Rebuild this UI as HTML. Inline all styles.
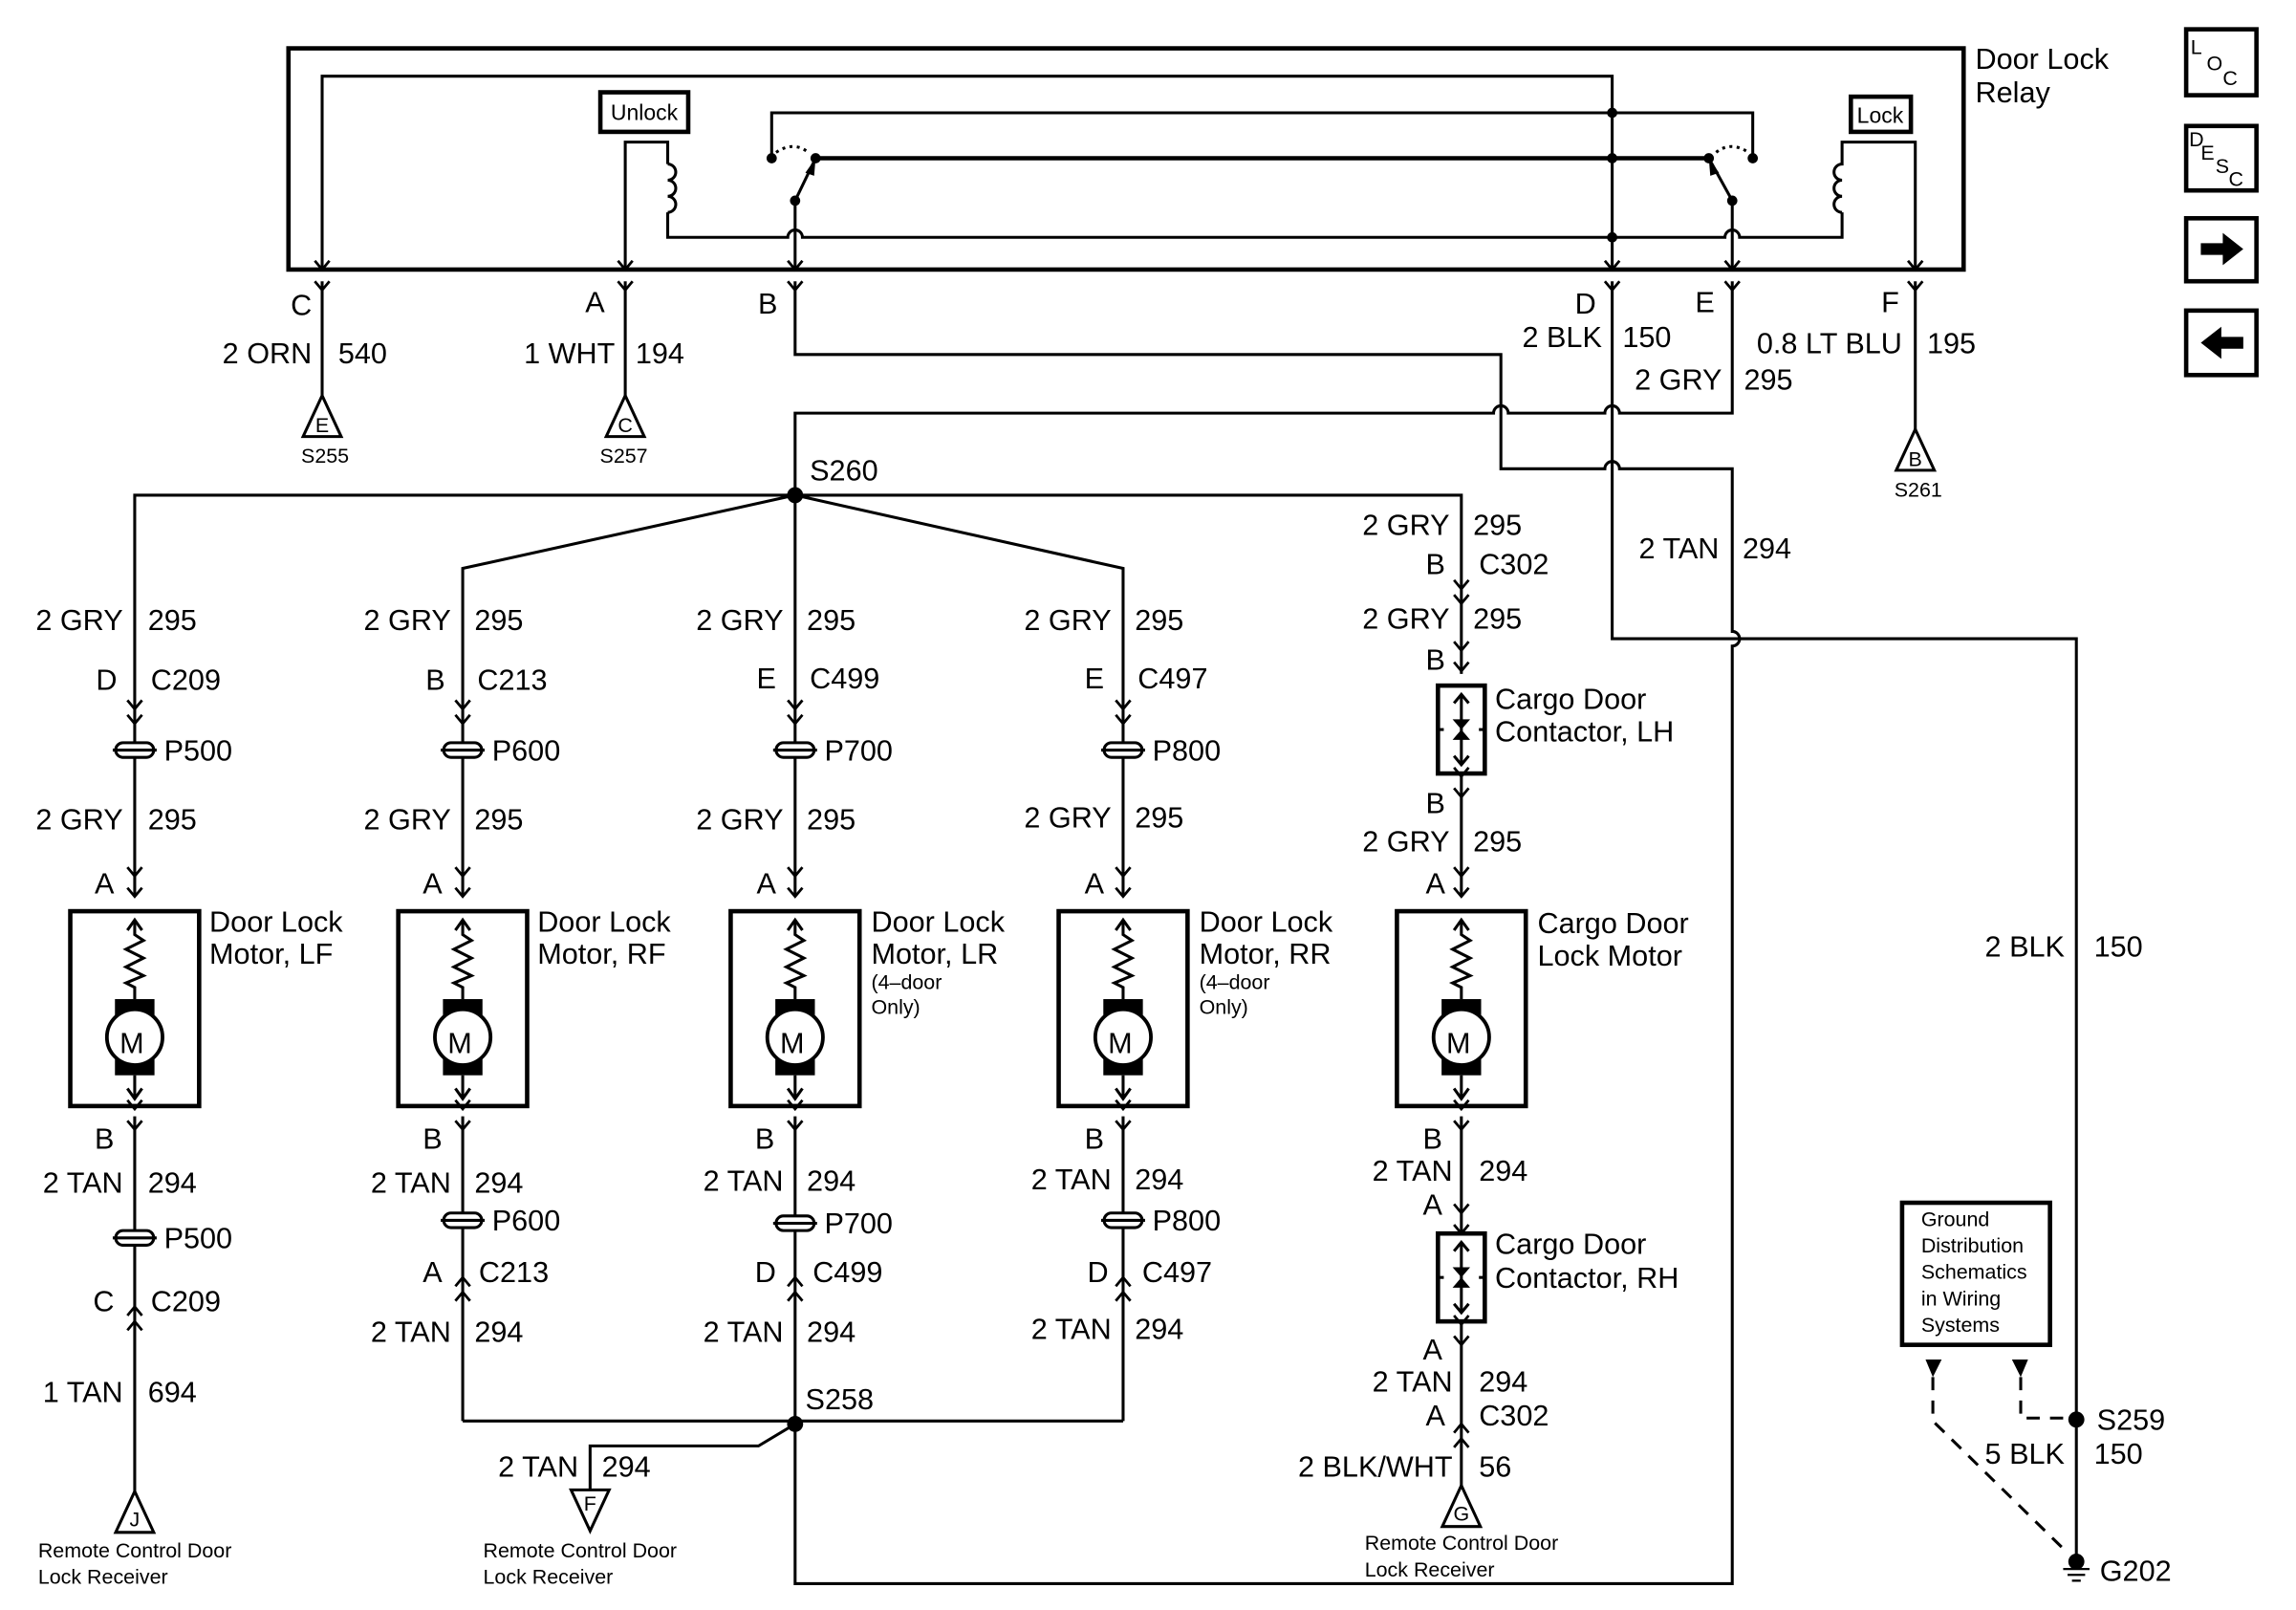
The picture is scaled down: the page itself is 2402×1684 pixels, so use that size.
<!DOCTYPE html>
<html><head><meta charset="utf-8"><style>
html,body{margin:0;padding:0;background:#fff}
svg{display:block}
text{font-family:"Liberation Sans",Arial,sans-serif;font-size:20px;fill:#000}
.s{font-size:14px}
.m{font-size:15px}
</style></head><body>
<svg width="2402" height="1684" viewBox="0 0 1568 1099" preserveAspectRatio="none" xmlns="http://www.w3.org/2000/svg">
<defs>
<g id="motor" fill="none" stroke="#000" stroke-width="2">
<rect x="-44" y="0" width="88" height="133" stroke-width="3"/>
<polyline points="-5,13 0,6 5,13"/>
<path d="M0,6 L0,16 L6,20 L-6,26 L6,32 L-6,38 L6,44 L-6,49 L0,52 L0,60"/>
<rect x="-13.5" y="60" width="27" height="52" fill="#000" stroke="none"/>
<circle cx="0" cy="86" r="19" fill="#fff" stroke-width="2.5"/>
<line x1="0" y1="112" x2="0" y2="128"/>
<polyline points="-5,121 0,128 5,121"/>
</g>
<g id="pill" stroke="#000" stroke-width="2">
<rect x="-13" y="-5" width="26" height="10" rx="5" fill="#fff"/>
<line x1="-15" y1="0" x2="15" y2="0"/>
</g>
<g id="cd" fill="none" stroke="#000" stroke-width="1.8">
<polyline points="-5,-6 0,0 5,-6"/>
<polyline points="-5,4 0,10 5,4"/>
</g>
<g id="cu" fill="none" stroke="#000" stroke-width="1.8">
<polyline points="-5,6 0,0 5,6"/>
<polyline points="-5,-4 0,-10 5,-4"/>
</g>
<g id="contactor" fill="none" stroke="#000" stroke-width="2">
<rect x="-16" y="0" width="32" height="60" stroke-width="3"/>
<line x1="0" y1="6" x2="0" y2="54"/>
<polyline points="-5,12 0,6 5,12"/>
<polyline points="-5,48 0,54 5,48"/>
<polygon points="-6,23 6,23 0,30" fill="#000" stroke="none"/>
<polygon points="-6,37 6,37 0,30" fill="#000" stroke="none"/>
<line x1="-16" y1="30" x2="-12" y2="30"/><line x1="12" y1="30" x2="16" y2="30"/>
</g>
<g id="tri" stroke="#000" stroke-width="2" fill="#fff">
<polygon points="0,0 -13,28 13,28"/>
</g>
<g id="ytop" fill="none" stroke="#000" stroke-width="1.8">
<polyline points="-5,-6 0,0 5,-6"/>
<polyline points="-5,8 0,14 5,8"/>
</g>
</defs>

<g fill="none" stroke="#000" stroke-width="2">
<rect x="197" y="33" width="1144" height="151" stroke-width="3"/>
<polyline points="220,184 220,52 1101,52 1101,184"/>
<polyline points="527,108 527,77 1197,77 1197,108"/>
<line x1="557" y1="108" x2="1167" y2="108" stroke-width="3"/>
<polyline points="427,184 427,97 456,97 456,112"/>
<path d="M456,112 a4,4 0 0 1 0,11 a4,4 0 0 1 0,11 a4,4 0 0 1 0,11"/>
<path d="M456,145 L456,162 L538,162 a5,5 0 0 1 10,0 L1178,162 a5,5 0 0 1 10,0 L1258,162 L1258,145"/>
<path d="M1258,145 a4,4 0 0 1 0,-11 a4,4 0 0 1 0,-11 a4,4 0 0 1 0,-11 L1258,97 L1308,97 L1308,184"/>
<line x1="543" y1="184" x2="543" y2="137"/>
<line x1="543" y1="137" x2="557" y2="108"/>
<line x1="1183" y1="184" x2="1183" y2="137"/>
<line x1="1183" y1="137" x2="1167" y2="108"/>
<path d="M530,104 Q542,96 552,104" stroke-dasharray="2,3"/>
<path d="M1172,104 Q1182,96 1194,104" stroke-dasharray="2,3"/>
<rect x="410" y="63" width="60" height="27" stroke-width="3"/>
<rect x="1264" y="66" width="41" height="24" stroke-width="3"/>
</g>
<g fill="#000">
<circle cx="1101" cy="77" r="3.5"/><circle cx="1101" cy="108" r="3.5"/><circle cx="1101" cy="162" r="3.5"/>
<circle cx="527" cy="108" r="3.5"/><circle cx="557" cy="108" r="3.5"/><circle cx="543" cy="137" r="3.5"/>
<circle cx="1197" cy="108" r="3.5"/><circle cx="1167" cy="108" r="3.5"/><circle cx="1183" cy="137" r="3.5"/>
<polygon points="557,108 550,118 556,120"/><polygon points="1167,108 1174,118 1168,120"/>
</g>
<text x="440" y="82" text-anchor="middle" class="m">Unlock</text>
<text x="1284" y="84" text-anchor="middle" class="m">Lock</text>
<text x="1349" y="47">Door Lock</text>
<text x="1349" y="70">Relay</text>

<use href="#ytop" x="220" y="184"/><use href="#ytop" x="427" y="184"/><use href="#ytop" x="543" y="184"/>
<use href="#ytop" x="1101" y="184"/><use href="#ytop" x="1183" y="184"/><use href="#ytop" x="1308" y="184"/>
<text x="213" y="215" text-anchor="end">C</text>
<text x="413" y="213" text-anchor="end">A</text>
<text x="531" y="214" text-anchor="end">B</text>
<text x="1090" y="214" text-anchor="end">D</text>
<text x="1171" y="213" text-anchor="end">E</text>
<text x="1297" y="213" text-anchor="end">F</text>

<g fill="none" stroke="#000" stroke-width="2">
<line x1="220" y1="192" x2="220" y2="270"/>
<line x1="427" y1="192" x2="427" y2="270"/>
<line x1="1308" y1="192" x2="1308" y2="293"/>
<path d="M543,192 L543,242 L1025,242 L1025,320 L1096,320 a5,5 0 0 1 10,0 L1183,320 L1183,431 a5,5 0 0 1 0,10 L1183,1081 L543,1081 L543,972"/>
<path d="M1183,192 L1183,282 L1106,282 a5,5 0 0 0 -10,0 L1030,282 a5,5 0 0 0 -10,0 L543,282 L543,612"/>
<polyline points="1101,192 1101,436 1418,436 1418,1062"/>
<polyline points="543,338 92,338 92,612"/>
<polyline points="543,338 316,388 316,612"/>
<polyline points="543,338 767,388 767,612"/>
<polyline points="543,338 998,338 998,460"/>
<line x1="92" y1="762" x2="92" y2="1018"/>
<line x1="316" y1="762" x2="316" y2="970"/>
<line x1="543" y1="762" x2="543" y2="972"/>
<line x1="767" y1="762" x2="767" y2="970"/>
<line x1="316" y1="970" x2="767" y2="970"/>
<polyline points="543,972 518,987 403,987 403,1017"/>
<line x1="998" y1="530" x2="998" y2="612"/>
<line x1="998" y1="762" x2="998" y2="842"/>
<line x1="998" y1="904" x2="998" y2="1014"/>
</g>
<g fill="#000"><circle cx="543" cy="338" r="5.5"/><circle cx="543" cy="972" r="5.5"/><circle cx="1418" cy="969" r="5.5"/><circle cx="1418" cy="1066" r="5.5"/></g>
<g stroke="#000" stroke-width="1.5"><line x1="1409" y1="1071" x2="1427" y2="1071"/><line x1="1412" y1="1075" x2="1424" y2="1075"/><line x1="1415" y1="1079" x2="1421" y2="1079"/></g>

<text x="213" y="248" text-anchor="end">2 ORN</text><text x="231" y="248">540</text>
<text x="420" y="248" text-anchor="end">1 WHT</text><text x="434" y="248">194</text>
<text x="1094" y="237" text-anchor="end">2 BLK</text><text x="1108" y="237">150</text>
<text x="1176" y="266" text-anchor="end">2 GRY</text><text x="1191" y="266">295</text>
<text x="1299" y="241" text-anchor="end">0.8 LT BLU</text><text x="1316" y="241">195</text>
<text x="1174" y="381" text-anchor="end">2 TAN</text><text x="1190" y="381">294</text>
<text x="1410" y="653" text-anchor="end">2 BLK</text><text x="1430" y="653">150</text>
<text x="553" y="328">S260</text>
<text x="550" y="962">S258</text>

<use href="#tri" x="220" y="270"/><text x="220" y="295" text-anchor="middle" class="s">E</text><text x="222" y="316" text-anchor="middle" class="s">S255</text>
<use href="#tri" x="427" y="270"/><text x="427" y="295" text-anchor="middle" class="s">C</text><text x="426" y="316" text-anchor="middle" class="s">S257</text>
<use href="#tri" x="1308" y="293"/><text x="1308" y="318" text-anchor="middle" class="s">B</text><text x="1310" y="339" text-anchor="middle" class="s">S261</text>
<use href="#tri" x="92" y="1018"/><text x="92" y="1042" text-anchor="middle" class="s">J</text>
<polygon points="390,1017 416,1017 403,1045" fill="#fff" stroke="#000" stroke-width="2"/><text x="403" y="1031" text-anchor="middle" class="s">F</text>
<use href="#tri" x="998" y="1014"/><text x="998" y="1038" text-anchor="middle" class="s">G</text>
<text x="26" y="1063" class="s">Remote Control Door</text><text x="26" y="1081" class="s">Lock Receiver</text>
<text x="330" y="1063" class="s">Remote Control Door</text><text x="330" y="1081" class="s">Lock Receiver</text>
<text x="932" y="1058" class="s">Remote Control Door</text><text x="932" y="1076" class="s">Lock Receiver</text>

<text x="84" y="430" text-anchor="end">2 GRY</text><text x="101" y="430">295</text>
<text x="80" y="471" text-anchor="end">D</text><text x="103" y="471">C209</text>
<use href="#cd" x="92" y="484"/>
<use href="#pill" x="92" y="512"/><text x="112" y="519">P500</text>
<text x="84" y="566" text-anchor="end">2 GRY</text><text x="101" y="566">295</text>
<text x="78" y="610" text-anchor="end">A</text>
<use href="#ytop" x="92" y="598"/>
<use href="#motor" x="92" y="622"/><text x="90" y="719" text-anchor="middle">M</text>
<text x="143" y="636">Door Lock</text><text x="143" y="658">Motor, LF</text>
<use href="#ytop" x="92" y="757"/>
<text x="78" y="784" text-anchor="end">B</text>
<text x="84" y="814" text-anchor="end">2 TAN</text><text x="101" y="814">294</text>
<use href="#pill" x="92" y="845"/><text x="112" y="852">P500</text>
<text x="78" y="895" text-anchor="end">C</text><text x="103" y="895">C209</text>
<use href="#cu" x="92" y="902"/>
<text x="84" y="957" text-anchor="end">1 TAN</text><text x="101" y="957">694</text>

<text x="308" y="430" text-anchor="end">2 GRY</text><text x="324" y="430">295</text>
<text x="304" y="471" text-anchor="end">B</text><text x="326" y="471">C213</text>
<use href="#cd" x="316" y="484"/>
<use href="#pill" x="316" y="512"/><text x="336" y="519">P600</text>
<text x="308" y="566" text-anchor="end">2 GRY</text><text x="324" y="566">295</text>
<text x="302" y="610" text-anchor="end">A</text>
<use href="#ytop" x="316" y="598"/>
<use href="#motor" x="316" y="622"/><text x="314" y="719" text-anchor="middle">M</text>
<text x="367" y="636">Door Lock</text><text x="367" y="658">Motor, RF</text>
<use href="#ytop" x="316" y="757"/>
<text x="302" y="784" text-anchor="end">B</text>
<text x="308" y="814" text-anchor="end">2 TAN</text><text x="324" y="814">294</text>
<use href="#pill" x="316" y="833"/><text x="336" y="840">P600</text>
<text x="302" y="875" text-anchor="end">A</text><text x="327" y="875">C213</text>
<use href="#cu" x="316" y="882"/>
<text x="308" y="916" text-anchor="end">2 TAN</text><text x="324" y="916">294</text>

<text x="535" y="430" text-anchor="end">2 GRY</text><text x="551" y="430">295</text>
<text x="530" y="470" text-anchor="end">E</text><text x="553" y="470">C499</text>
<use href="#cd" x="543" y="484"/>
<use href="#pill" x="543" y="512"/><text x="563" y="519">P700</text>
<text x="535" y="566" text-anchor="end">2 GRY</text><text x="551" y="566">295</text>
<text x="530" y="610" text-anchor="end">A</text>
<use href="#ytop" x="543" y="598"/>
<use href="#motor" x="543" y="622"/><text x="541" y="719" text-anchor="middle">M</text>
<text x="595" y="636">Door Lock</text><text x="595" y="658">Motor, LR</text>
<text x="595" y="675" class="s">(4–door</text><text x="595" y="692" class="s">Only)</text>
<use href="#ytop" x="543" y="757"/>
<text x="529" y="784" text-anchor="end">B</text>
<text x="535" y="813" text-anchor="end">2 TAN</text><text x="551" y="813">294</text>
<use href="#pill" x="543" y="835"/><text x="563" y="842">P700</text>
<text x="530" y="875" text-anchor="end">D</text><text x="555" y="875">C499</text>
<use href="#cu" x="543" y="882"/>
<text x="535" y="916" text-anchor="end">2 TAN</text><text x="551" y="916">294</text>
<text x="395" y="1008" text-anchor="end">2 TAN</text><text x="411" y="1008">294</text>

<text x="759" y="430" text-anchor="end">2 GRY</text><text x="775" y="430">295</text>
<text x="754" y="470" text-anchor="end">E</text><text x="777" y="470">C497</text>
<use href="#cd" x="767" y="484"/>
<use href="#pill" x="767" y="512"/><text x="787" y="519">P800</text>
<text x="759" y="565" text-anchor="end">2 GRY</text><text x="775" y="565">295</text>
<text x="754" y="610" text-anchor="end">A</text>
<use href="#ytop" x="767" y="598"/>
<use href="#motor" x="767" y="622"/><text x="765" y="719" text-anchor="middle">M</text>
<text x="819" y="636">Door Lock</text><text x="819" y="658">Motor, RR</text>
<text x="819" y="675" class="s">(4–door</text><text x="819" y="692" class="s">Only)</text>
<use href="#ytop" x="767" y="757"/>
<text x="754" y="784" text-anchor="end">B</text>
<text x="759" y="812" text-anchor="end">2 TAN</text><text x="775" y="812">294</text>
<use href="#pill" x="767" y="833"/><text x="787" y="840">P800</text>
<text x="757" y="875" text-anchor="end">D</text><text x="780" y="875">C497</text>
<use href="#cu" x="767" y="882"/>
<text x="759" y="914" text-anchor="end">2 TAN</text><text x="775" y="914">294</text>

<text x="990" y="365" text-anchor="end">2 GRY</text><text x="1006" y="365">295</text>
<text x="987" y="392" text-anchor="end">B</text><text x="1010" y="392">C302</text>
<use href="#cd" x="998" y="402"/>
<text x="990" y="429" text-anchor="end">2 GRY</text><text x="1006" y="429">295</text>
<text x="987" y="457" text-anchor="end">B</text>
<use href="#ytop" x="998" y="444"/>
<use href="#contactor" x="998" y="468"/>
<text x="1021" y="484">Cargo Door</text><text x="1021" y="506">Contactor, LH</text>
<use href="#ytop" x="998" y="530"/>
<text x="987" y="555" text-anchor="end">B</text>
<text x="990" y="581" text-anchor="end">2 GRY</text><text x="1006" y="581">295</text>
<text x="987" y="610" text-anchor="end">A</text>
<use href="#ytop" x="998" y="598"/>
<use href="#motor" x="998" y="622"/><text x="996" y="719" text-anchor="middle">M</text>
<text x="1050" y="637">Cargo Door</text><text x="1050" y="659">Lock Motor</text>
<use href="#ytop" x="998" y="757"/>
<text x="985" y="784" text-anchor="end">B</text>
<text x="992" y="806" text-anchor="end">2 TAN</text><text x="1010" y="806">294</text>
<text x="985" y="829" text-anchor="end">A</text>
<use href="#ytop" x="998" y="828"/>
<use href="#contactor" x="998" y="842"/>
<text x="1021" y="856">Cargo Door</text><text x="1021" y="879">Contactor, RH</text>
<use href="#ytop" x="998" y="904"/>
<text x="985" y="928" text-anchor="end">A</text>
<text x="992" y="950" text-anchor="end">2 TAN</text><text x="1010" y="950">294</text>
<text x="987" y="973" text-anchor="end">A</text><text x="1010" y="973">C302</text>
<use href="#cu" x="998" y="982"/>
<text x="992" y="1008" text-anchor="end">2 BLK/WHT</text><text x="1010" y="1008">56</text>

<rect x="1299" y="821" width="101" height="97" fill="none" stroke="#000" stroke-width="3"/>
<text x="1312" y="837" class="s">Ground</text>
<text x="1312" y="855" class="s">Distribution</text>
<text x="1312" y="873" class="s">Schematics</text>
<text x="1312" y="891" class="s">in Wiring</text>
<text x="1312" y="909" class="s">Systems</text>
<polygon points="1315,928 1326,928 1320,940" fill="#000"/>
<polygon points="1374,928 1385,928 1380,940" fill="#000"/>
<g fill="none" stroke="#000" stroke-width="2" stroke-dasharray="9,7">
<polyline points="1320,940 1320,970 1412,1060"/>
<polyline points="1380,940 1380,968 1412,968"/>
</g>
<text x="1432" y="976">S259</text>
<text x="1410" y="999" text-anchor="end">5 BLK</text><text x="1430" y="999">150</text>
<text x="1434" y="1079">G202</text>

<g fill="none" stroke="#000" stroke-width="3">
<rect x="1493" y="20" width="48" height="45"/>
<rect x="1493" y="86" width="48" height="44"/>
<rect x="1493" y="149" width="48" height="43"/>
<rect x="1493" y="212" width="48" height="44"/>
</g>
<text x="1496" y="37" class="s">L</text><text x="1507" y="48" class="s">O</text><text x="1518" y="58" class="s">C</text>
<text x="1495" y="100" class="s">D</text><text x="1503" y="109" class="s">E</text><text x="1513" y="118" class="s">S</text><text x="1522" y="127" class="s">C</text>
<polygon points="1503,166 1518,166 1518,159 1532,170 1518,181 1518,174 1503,174" fill="#000"/>
<polygon points="1532,230 1517,230 1517,223 1503,234 1517,245 1517,238 1532,238" fill="#000"/>
</svg>
</body></html>
